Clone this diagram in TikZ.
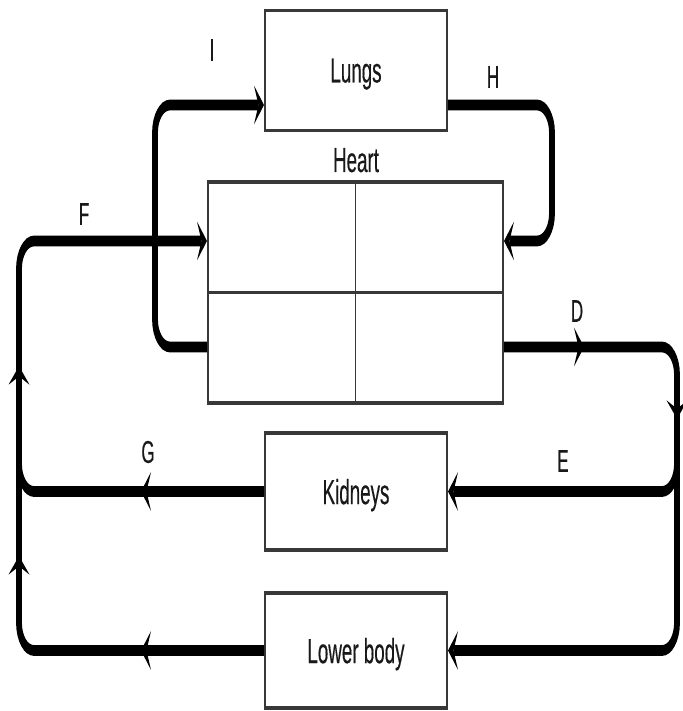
\documentclass[tikz,border=0pt]{standalone}
\usepackage{fontspec}
\setmainfont{Liberation Sans}
\newfontfamily\heavysans[FakeBold=0.5]{Liberation Sans}
\usetikzlibrary{arrows.meta,decorations.markings}
\newcommand\diagfont{\heavysans\fontsize{18.8}{22}\selectfont}
\newcommand\lblfont{\heavysans\fontsize{17}{20}\selectfont}
\tikzset{
  flowtip/.tip={Stealth[length=10pt,width=21pt,inset=4.5pt,line width=0pt]},
  flow/.style={line width=5.8pt, black, rounded corners=15pt},
  box/.style={draw=black!78, line width=2pt, inner sep=0pt, text depth=0pt, font=\diagfont, text=black!90},
  inner/.style={draw=black!78, line width=1.5pt},
  lbl/.style={font=\lblfont, inner sep=0pt, text=black!90},
  mids/.style 2 args={postaction={decorate}, decoration={markings,
      mark=at position #1 with {\arrow{flowtip}},
      mark=at position #2 with {\arrow{flowtip}}}}
}
\begin{document}
\begin{tikzpicture}[x=1pt,y=-1pt]
\useasboundingbox[fill=white] (0,0) rectangle (682,711);
\begin{scope}[x=1pt,y=-0.54054pt,transform canvas={yscale=1.85}]
  % helper coordinates
  \coordinate (yTop) at (0,105);
  \coordinate (yMid) at (0,241);
  \coordinate (yLow) at (0,347);
  \coordinate (xL) at (19,0);
  \coordinate (xI) at (155,0);
  \coordinate (xH) at (552,0);
  \coordinate (xR) at (677,0);
  \coordinate (eTop) at (677,440);
  \coordinate (lEnd) at (19,455);
  % boxes
  \node[box, minimum width=182pt, minimum height=64.86pt] (lungs) at (356,70.5) {Lungs};
  \node[box, minimum width=295pt, minimum height=119.46pt] (heart) at (355.5,292.5) {};
  \node[box, minimum width=182pt, minimum height=63.24pt] (kidneys) at (356,491.5) {Kidneys};
  \node[box, minimum width=182pt, minimum height=62.16pt] (lower) at (356,650.5) {Lower body};
  \node[font=\diagfont, text=black!90, inner sep=0pt, anchor=base] (heartlbl) at (356,172) {Heart};
  \draw[inner] (heart.north) -- (heart.south);
  \draw[inner] (heart.west) -- (heart.east);
  % labels
  \node[lbl] (lI) at (212,50) {I};
  \node[lbl] (lH) at (493,77) {H};
  \node[lbl] (lF) at (84,214) {F};
  \node[lbl] (lD) at (577,311) {D};
  \node[lbl] (lG) at (148,452) {G};
  \node[lbl] (lE) at (563,461) {E};
  % flows
  \draw[flow, -flowtip] (heart.west |- yLow) -- (xI |- yLow) -- (xI |- yTop) -- (lungs.west |- yTop);
  \draw[flow, -flowtip] (lungs.east |- yTop) -- (xH |- yTop) -- (xH |- yMid) -- (heart.east |- yMid);
  \draw[flow, -flowtip, mids={123pt}{306.3pt}] (kidneys.west) -- (xL |- kidneys.west) -- (xL |- yMid) -- (heart.west |- yMid);
  \draw[flow, mids={123pt}{289.6pt}] (lower.west) -- (xL |- lower.west) -- (lEnd);
  \draw[flow, -flowtip, mids={80pt}{205.4pt}] (heart.east |- yLow) -- (xR |- yLow) -- (xR |- lower.east) -- (lower.east);
  \draw[flow, -flowtip] (eTop) -- (xR |- kidneys.east) -- (kidneys.east);
\end{scope}
\end{tikzpicture}
\end{document}
